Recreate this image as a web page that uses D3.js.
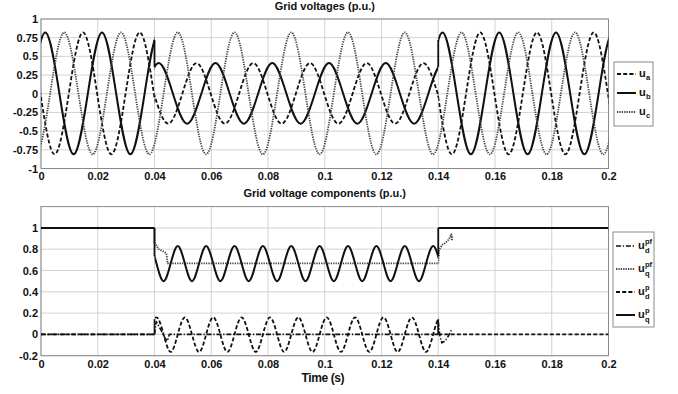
<!DOCTYPE html>
<html>
<head>
<meta charset="utf-8">
<script src="https://cdn.jsdelivr.net/npm/d3@7"></script>
<style>
  body { margin: 0; background: #fff; }
  text { font-family: "Liberation Sans", Arial, sans-serif; font-weight: bold; fill: #111; }
  .grid line { stroke: #c8c8c8; stroke-width: 0.8; }
  .axis text { font-size: 11px; }
</style>
</head>
<body>
<div id="chart"></div>
<script>
var width = 678;
var height = 394;

// x ticks shared by both panels
var xTicks = [0, 0.02, 0.04, 0.06, 0.08, 0.1, 0.12, 0.14, 0.16, 0.18, 0.2];
var topYTicks = [-1, -0.75, -0.5, -0.25, 0, 0.25, 0.5, 0.75, 1];
var botYTicks = [-0.2, 0, 0.2, 0.4, 0.6, 0.8, 1];
// sag starts / ends
var breaks = [0, 0.04, 0.14, 0.2];

// grid voltages, key points [t, u] (peaks, zero crossings),
// one array per time window, running a little past the window edges
var ua = [
  [[-0.0102,0],[-0.0052,0.82],[-0.0002,0],[0.0048,-0.81],[0.0098,0],[0.0148,0.82],[0.0198,0],[0.0248,-0.81],[0.0298,0],
   [0.0348,0.82],[0.0398,0],[0.0448,-0.81],[0.0498,0]],
  [[0.0298,0],[0.0348,0.41],[0.0398,0],[0.0448,-0.4],[0.0498,0],[0.0548,0.41],[0.0598,0],[0.0648,-0.4],[0.0698,0],[0.0748,0.41],
   [0.0798,0],[0.0848,-0.4],[0.0898,0],[0.0948,0.41],[0.0998,0],[0.1048,-0.4],[0.1098,0],[0.1148,0.41],[0.1198,0],
   [0.1248,-0.4],[0.1298,0],[0.1348,0.41],[0.1398,0],[0.1448,-0.4],[0.1498,0]],
  [[0.1298,0],[0.1348,0.82],[0.1398,0],[0.1448,-0.81],[0.1498,0],[0.1548,0.82],[0.1598,0],[0.1648,-0.81],[0.1698,0],
   [0.1748,0.82],[0.1798,0],[0.1848,-0.81],[0.1898,0],[0.1948,0.82],[0.1998,0],[0.2048,-0.81],[0.2098,0]]
];
var ub = [
  [[-0.0035,0],[0.0015,0.82],[0.0065,0],[0.0115,-0.81],[0.0165,0],[0.0215,0.82],[0.0265,0],[0.0315,-0.81],
   [0.0365,0],[0.0415,0.82],[0.0465,0]],
  [[0.0365,0],[0.0415,0.41],[0.0465,0],[0.0515,-0.4],[0.0565,0],[0.0615,0.41],[0.0665,0],[0.0715,-0.4],[0.0765,0],
   [0.0815,0.41],[0.0865,0],[0.0915,-0.4],[0.0965,0],[0.1015,0.41],[0.1065,0],[0.1115,-0.4],[0.1165,0],[0.1215,0.41],
   [0.1265,0],[0.1315,-0.4],[0.1365,0],[0.1415,0.41],[0.1465,0]],
  [[0.1365,0],[0.1415,0.82],[0.1465,0],[0.1515,-0.81],[0.1565,0],[0.1615,0.82],[0.1665,0],[0.1715,-0.81],[0.1765,0],
   [0.1815,0.82],[0.1865,0],[0.1915,-0.81],[0.1965,0],[0.2015,0.82],[0.2065,0]]
];
var uc = [
  [[-0.0068,0],[-0.0018,-0.81],[0.0032,0],[0.0082,0.82],[0.0132,0],[0.0182,-0.81],[0.0232,0],[0.0282,0.82],[0.0332,0],[0.0382,-0.81],
   [0.0432,0],[0.0482,0.82],[0.0532,0],[0.0582,-0.81],[0.0632,0],[0.0682,0.82],[0.0732,0],[0.0782,-0.81],
   [0.0832,0],[0.0882,0.82],[0.0932,0],[0.0982,-0.81],[0.1032,0],[0.1082,0.82],[0.1132,0],[0.1182,-0.81],
   [0.1232,0],[0.1282,0.82],[0.1332,0],[0.1382,-0.81],[0.1432,0],[0.1482,0.82],[0.1532,0],[0.1582,-0.81],
   [0.1632,0],[0.1682,0.82],[0.1732,0],[0.1782,-0.81],[0.1832,0],[0.1882,0.82],[0.1932,0],[0.1982,-0.81],[0.2032,0]]
];

// grid voltage components
var udpf = [
  [[0,0],[0.04,0]],
  [[0.04,0],[0.0406,0.12],[0.0425,0.03],[0.0438,-0.04],[0.0446,-0.06],[0.0452,0],[0.14,0]],
  [[0.14,0.12],[0.1406,-0.02],[0.1413,-0.08],[0.1425,-0.06],[0.1437,-0.01],[0.1446,0.04],[0.145,0.03]]
];
var uqpf = [
  [[0,1],[0.04,1]],
  [[0.04,0.86],[0.0405,0.84],[0.0415,0.8],[0.043,0.78],[0.0442,0.76],[0.0446,0.667],[0.14,0.667]],
  [[0.14,0.667],[0.1403,0.79],[0.1413,0.84],[0.1425,0.86],[0.1437,0.89],[0.1446,0.94],[0.1448,0.88],[0.145,0.93]]
];
var udp = [
  [[0,0],[0.04,0]],
  [[0.0332,0],[0.0357,-0.165],[0.0382,0],[0.0407,0.16],[0.0432,0],[0.0457,-0.165],[0.0482,0],[0.0507,0.16],[0.0532,0],[0.0557,-0.165],[0.0582,0],
   [0.0607,0.16],[0.0632,0],[0.0657,-0.165],[0.0682,0],[0.0707,0.16],[0.0732,0],[0.0757,-0.165],[0.0782,0],
   [0.0807,0.16],[0.0832,0],[0.0857,-0.165],[0.0882,0],[0.0907,0.16],[0.0932,0],[0.0957,-0.165],[0.0982,0],
   [0.1007,0.16],[0.1032,0],[0.1057,-0.165],[0.1082,0],[0.1107,0.16],[0.1132,0],[0.1157,-0.165],[0.1182,0],
   [0.1207,0.16],[0.1232,0],[0.1257,-0.165],[0.1282,0],[0.1307,0.16],[0.1332,0],[0.1357,-0.165],[0.1382,0],
   [0.1407,0.16],[0.1432,0]],
  [[0.14,0],[0.2,0]]
];
var uqp = [
  [[0,1],[0.04,1]],
  [[0.0357,0.665],[0.0382,0.83],[0.0407,0.665],[0.0432,0.5],[0.0457,0.665],[0.0482,0.83],[0.0507,0.665],[0.0532,0.5],
   [0.0557,0.665],[0.0582,0.83],[0.0607,0.665],[0.0632,0.5],[0.0657,0.665],[0.0682,0.83],[0.0707,0.665],[0.0732,0.5],
   [0.0757,0.665],[0.0782,0.83],[0.0807,0.665],[0.0832,0.5],[0.0857,0.665],[0.0882,0.83],[0.0907,0.665],[0.0932,0.5],
   [0.0957,0.665],[0.0982,0.83],[0.1007,0.665],[0.1032,0.5],[0.1057,0.665],[0.1082,0.83],[0.1107,0.665],[0.1132,0.5],
   [0.1157,0.665],[0.1182,0.83],[0.1207,0.665],[0.1232,0.5],[0.1257,0.665],[0.1282,0.83],[0.1307,0.665],[0.1332,0.5],
   [0.1357,0.665],[0.1382,0.83],[0.1407,0.665]],
  [[0.14,1],[0.2,1]]
];

var styles = {
  dash:    { dash: "4,2.2",         w: 1.8, c: "#111" },
  solid:   { dash: null,            w: 2.0, c: "#111" },
  dot:     { dash: "1.3,1.1",       w: 1.8, c: "#444" },
  dashdot: { dash: "5,1.8,1.3,1.8", w: 1.6, c: "#111" }
};

var topSeries = [
  { data: ua, st: "dash",  curve: d3.curveNatural, sub: "a" },
  { data: ub, st: "solid", curve: d3.curveNatural, sub: "b" },
  { data: uc, st: "dot",   curve: d3.curveNatural, sub: "c", whole: true }
];
var botSeries = [
  { data: udpf, st: "dashdot", curve: d3.curveLinear,  sup: "pf", sub: "d" },
  { data: uqpf, st: "dot",     curve: d3.curveLinear,  sup: "pf", sub: "q" },
  { data: udp,  st: "dash",    curve: d3.curveNatural, sup: "p",  sub: "d" },
  { data: uqp,  st: "solid",   curve: d3.curveNatural, sup: "p",  sub: "q" }
];

var svg = d3.select("#chart").append("svg").attr("width", width).attr("height", height);

var x = d3.scaleLinear().domain([0, 0.2]).range([41, 608.5]);
var yTop = d3.scaleLinear().domain([-1, 1]).range([168.5, 19]);
var yBot = d3.scaleLinear().domain([-0.2, 1.2]).range([355.7, 206.6]);

// y of a drawn path at screen x (path runs left to right)
function yAt(node, px) {
  var lo = 0, hi = node.getTotalLength();
  for (var k = 0; k < 40; k++) {
    var mid = (lo + hi) / 2;
    if (node.getPointAtLength(mid).x < px) lo = mid; else hi = mid;
  }
  return node.getPointAtLength((lo + hi) / 2).y;
}

function panel(id, y, yTicks, series, title, titleY, labPad) {
  var g = svg.append("g");
  var x0 = x.range()[0], x1 = x.range()[1];
  var yr = y.range();

  // one clip per time window
  breaks.slice(0, -1).forEach(function(b, i) {
    g.append("clipPath").attr("id", id + i).append("rect")
      .attr("x", x(b)).attr("y", yr[1]).attr("width", x(breaks[i + 1]) - x(b)).attr("height", yr[0] - yr[1]);
  });
  g.append("clipPath").attr("id", id + "all").append("rect")
    .attr("x", x0).attr("y", yr[1]).attr("width", x1 - x0).attr("height", yr[0] - yr[1]);

  // grid
  var grid = g.append("g").attr("class", "grid");
  grid.selectAll(".gx").data(xTicks).enter().append("line")
    .attr("x1", function(d) { return x(d); }).attr("x2", function(d) { return x(d); })
    .attr("y1", yr[0]).attr("y2", yr[1]);
  grid.selectAll(".gy").data(yTicks).enter().append("line")
    .attr("y1", function(d) { return y(d); }).attr("y2", function(d) { return y(d); })
    .attr("x1", x0).attr("x2", x1);

  g.append("rect").attr("x", x0).attr("y", yr[1]).attr("width", x1 - x0).attr("height", yr[0] - yr[1])
    .attr("fill", "none").attr("stroke", "#8a8a8a").attr("stroke-width", 1);

  var ax = g.append("g").attr("class", "axis").attr("transform", "translate(0," + yr[0] + ")")
    .call(d3.axisBottom(x).tickValues(xTicks).tickSize(0).tickPadding(labPad)
      .tickFormat(function(d) { return String(+d.toFixed(2)); }));
  ax.select(".domain").remove();

  var ay = g.append("g").attr("class", "axis").attr("transform", "translate(" + x0 + ",0)")
    .call(d3.axisLeft(y).tickValues(yTicks).tickSize(0).tickPadding(3)
      .tickFormat(function(d) { return String(d); }));
  ay.select(".domain").remove();

  g.append("text").attr("x", (x0 + x1) / 2).attr("y", titleY).attr("text-anchor", "middle")
    .style("font-size", "11px").text(title);

  series.forEach(function(s) {
    var st = styles[s.st];
    var line = d3.line().x(function(d) { return x(d[0]); }).y(function(d) { return y(d[1]); }).curve(s.curve);
    var sg = g.append("g");
    var nodes = s.data.map(function(seg, i) {
      return sg.append("path").attr("d", line(seg))
        .attr("clip-path", "url(#" + id + (s.whole ? "all" : i) + ")")
        .attr("fill", "none").attr("stroke", st.c).attr("stroke-width", st.w)
        .attr("stroke-dasharray", st.dash).attr("stroke-linejoin", "round").node();
    });
    // vertical jumps at the window edges
    for (var i = 1; i < nodes.length; i++) {
      var px = x(breaks[i]);
      sg.append("line").attr("x1", px).attr("x2", px)
        .attr("y1", yAt(nodes[i - 1], px)).attr("y2", yAt(nodes[i], px))
        .attr("stroke", st.c).attr("stroke-width", st.w * 0.9);
    }
  });
  return g;
}

panel("clipTop", yTop, topYTicks, topSeries, "Grid voltages (p.u.)", 9.5, 4);
panel("clipBot", yBot, botYTicks, botSeries, "Grid voltage components (p.u.)", 197, 5);

svg.append("text").attr("x", 323).attr("y", 382).attr("text-anchor", "middle")
  .style("font-size", "12px").attr("textLength", 43).text("Time (s)");

// legends
function legend(series, bx, by, bw, bh, y0, step) {
  var lg = svg.append("g");
  lg.append("rect").attr("x", bx).attr("y", by).attr("width", bw).attr("height", bh)
    .attr("fill", "#fff").attr("stroke", "#8a8a8a").attr("stroke-width", 1);
  series.forEach(function(s, i) {
    var yy = y0 + i * step;
    var st = styles[s.st];
    lg.append("line").attr("x1", bx + 3).attr("x2", bx + 22).attr("y1", yy).attr("y2", yy)
      .attr("stroke", st.c).attr("stroke-width", st.w).attr("stroke-dasharray", st.dash);
    lg.append("text").attr("x", bx + 25).attr("y", yy + 3).style("font-size", "11px").text("u");
    if (s.sup) {
      lg.append("text").attr("x", bx + 32).attr("y", yy - 2).style("font-size", "7.5px").text(s.sup);
      lg.append("text").attr("x", bx + 32).attr("y", yy + 7).style("font-size", "7.5px").text(s.sub);
    } else {
      lg.append("text").attr("x", bx + 32).attr("y", yy + 6).style("font-size", "7.5px").text(s.sub);
    }
  });
}
legend(topSeries, 614, 62, 39, 64, 74, 19);
legend(botSeries, 613, 232, 41, 95, 246, 23);
</script>
</body>
</html>
